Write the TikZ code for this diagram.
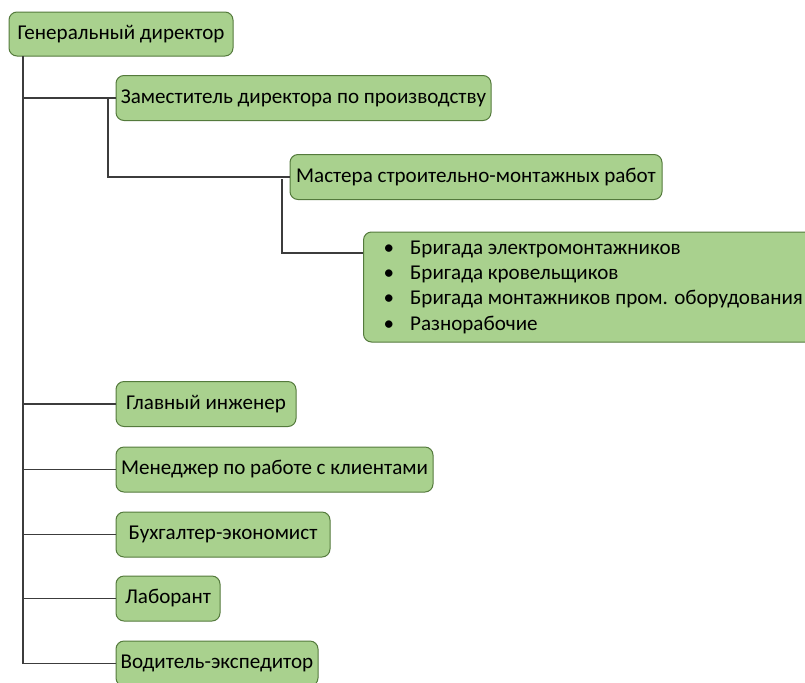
\documentclass[tikz,border=0pt]{standalone}
\usepackage{fontspec}
\setmainfont{Carlito}
\definecolor{boxfill}{RGB}{169,209,142}
\definecolor{boxline}{RGB}{84,122,60}
\definecolor{linkline}{RGB}{60,60,60}
\tikzset{every picture/.style={line width=0.75pt}}
\tikzset{
  orgbox/.style={draw=boxline, fill=boxfill, rounded corners=6pt, line width=0.75pt,
    minimum height=33.75pt, inner sep=0.75pt, font=\fontsize{15.8}{19}\selectfont},
  link/.style={draw=linkline, line width=1pt}
}

\begin{document}
\begin{tikzpicture}[x=0.75pt,y=0.75pt,yscale=-1,xscale=1]
\useasboundingbox (0,0) rectangle (805,682);

%Boxes
\node [orgbox, minimum width=168pt, minimum height=33pt] (gd) at (121,34) {Генеральный директор};
\node [orgbox, minimum width=281.25pt] (zam) at (303.5,98) {Заместитель директора по производству};
\node [orgbox, minimum width=279pt] (mas) at (476,177) {Мастера строительно-монтажных работ};
\node [orgbox, minimum width=331.5pt, minimum height=82.5pt, align=left, anchor=west, inner xsep=15pt] (brig) at (363,287)
  {\makebox[20pt][l]{\textbullet}Бригада электромонтажников\\
   \makebox[20pt][l]{\textbullet}Бригада кровельщиков\\
   \makebox[20pt][l]{\textbullet}Бригада монтажников пром. оборудования\\
   \makebox[20pt][l]{\textbullet}Разнорабочие};
\node [orgbox, minimum width=135pt] (gl) at (206,404) {Главный инженер};
\node [orgbox, minimum width=237.75pt] (men) at (274.5,469.5) {Менеджер по работе с клиентами};
\node [orgbox, minimum width=160.5pt] (buh) at (223,534.5) {Бухгалтер-экономист};
\node [orgbox, minimum width=78pt] (lab) at (168,598.5) {Лаборант};
\node [orgbox, minimum width=151.5pt] (vod) at (217,663.5) {Водитель-экспедитор};

%Connectors
\coordinate (t0) at (23,56);
\coordinate (b1) at (108,98);
\coordinate (b2) at (282,179);
\draw [link] (t0) |- (zam.west);
\draw [link] (t0) |- (gl.west);
\draw [link] (t0) |- (men.west);
\draw [link] (t0) |- (buh.west);
\draw [link] (t0) |- (lab.west);
\draw [link] (t0) |- (vod.west);
\draw [link] (b1) |- (mas.west);
\draw [link] (b2) |- (brig.west |- 0,253);

\end{tikzpicture}
\end{document}
